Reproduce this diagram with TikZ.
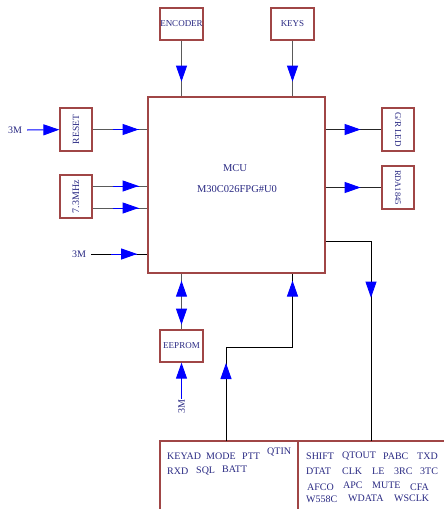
\documentclass[tikz,border=0pt]{standalone}
\usepackage{fontspec}
\setmainfont{Liberation Serif}
\usetikzlibrary{arrows.meta, decorations.markings, positioning}

\definecolor{boxred}{RGB}{160,70,70}
\definecolor{inkblue}{RGB}{40,40,130}
\definecolor{wiregray}{RGB}{90,90,90}

\tikzset{
	blk/.style={draw=boxred, line width=1.3pt, inner sep=0pt, text=inkblue, font=\fontsize{9}{10}\selectfont},
	txt/.style={text=inkblue, inner sep=1pt, font=\fontsize{10}{11}\selectfont},
	wire/.style={draw=wiregray, line width=0.9pt},
	tipshape/.style={-{Triangle[length=16pt,width=11pt]}},
	midtip/.style={postaction={decorate, decoration={markings, mark=at position #1 with {\arrow[blue]{Triangle[length=16pt,width=11pt]}}}}},
	backtip/.style={postaction={decorate, decoration={markings, mark=at position #1 with {\arrowreversed[blue]{Triangle[length=16pt,width=11pt]}}}}},
	midtipb/.style={postaction={decorate, decoration={markings, mark=at position #1 with {\draw[blue, line width=1pt] (-26pt,0) -- (0,0); \arrow[blue]{Triangle[length=16pt,width=11pt]}}}}}
}

\begin{document}
\begin{tikzpicture}[x=1pt, y=-1pt]
	\useasboundingbox (0,0) rectangle (444,509);
	\clip (0,0) rectangle (444,509);

	\node[blk, minimum width=177pt, minimum height=176pt] (mcu) at (236.5,185) {};
	\node[txt, font=\fontsize{10.5}{12}\selectfont] (mcuname) at (235,168) {MCU};
	\node[txt, font=\fontsize{10.5}{12}\selectfont] (mcupart) at (237,189) {M30C026FPG\#U0};

	\node[blk, minimum width=43pt, minimum height=32pt] (enc) at (181.5,24) {ENCODER};
	\node[blk, minimum width=43pt, minimum height=32pt] (keys) at (292.5,24) {KEYS};
	\node[blk, minimum width=43pt, minimum height=32pt] (eeprom) at (181.5,346) {EEPROM};
	\node[blk, minimum width=32pt, minimum height=43pt, label={[rotate=90, text=inkblue, font=\fontsize{9.5}{10}\selectfont]center:RESET}] (reset) at (76,129.5) {};
	\node[blk, minimum width=32pt, minimum height=43pt, label={[rotate=90, text=inkblue, font=\fontsize{10}{10}\selectfont]center:7.3MHz}] (mhz) at (76,196.5) {};
	\node[blk, minimum width=32pt, minimum height=43pt, label={[rotate=-90, text=inkblue, font=\fontsize{9}{10}\selectfont]center:G/R LED}] (grled) at (398,129.5) {};
	\node[blk, minimum width=32pt, minimum height=43pt, label={[rotate=-90, text=inkblue, font=\fontsize{8.5}{10}\selectfont]center:RDA1845}] (rda) at (398,187.5) {};

	\node[blk, minimum width=138pt, minimum height=90pt] (lbox) at (229,486) {};
	\node[blk, minimum width=162pt, minimum height=90pt] (rbox) at (379,486) {};

	\node[txt] (m1) at (15,130) {3M};
	\node[txt] (m2) at (79,254) {3M};
	\node[txt, rotate=90] (m3) at (181.5,407) {3M};

	\foreach \x/\y/\w in {166/456/KEYAD, 205/456/MODE, 241/456/PTT, 266/452/QTIN, 166/471/RXD, 195/471/SQL, 221/469/BATT,
		305/456/SHIFT, 341/456/QTOUT, 382/456/PABC, 416/456/TXD,
		305/471/DTAT, 341/471/CLK, 371/471/LE, 393/471/3RC, 419/471/3TC,
		306/487/AFCO, 342/485/APC, 371/485/MUTE, 409/487/CFA,
		305/499/W558C, 347/498/WDATA, 393/498/WSCLK}
		\node[txt, anchor=west] (w\w) at (\x,\y) {\w};

	\coordinate (rin) at (371,441);
	\coordinate (lout) at (226,441);

	\draw[wire, midtip=41pt] (enc) -- (enc |- mcu.north);
	\draw[wire, midtip=41pt] (keys) -- (keys |- mcu.north);

	\draw[blue, line width=1pt, tipshape] ([xshift=4pt]m1.east) -- (reset);
	\draw[wire, midtipb=46pt] (reset) -- (reset -| mcu.west);
	\draw[wire, midtipb=46pt] ([yshift=10.5pt]mhz.east) -- ([yshift=10.5pt]mhz.east -| mcu.west);
	\draw[wire, midtipb=46pt] ([yshift=-11.5pt]mhz.east) -- ([yshift=-11.5pt]mhz.east -| mcu.west);
	\draw[wire, draw=black, midtipb=46pt] ([xshift=4pt]m2.east) -- (m2 -| mcu.west);

	\draw[wire, draw=black!85, midtip=35pt] (grled -| mcu.east) -- (grled);
	\draw[wire, draw=black!85, midtip=35pt] (rda -| mcu.east) -- (rda);
	\draw[wire, draw=black, midtip=102pt] ([yshift=-56pt]mcu.east) -| (rin);

	\draw[wire, midtip=51pt, backtip=7pt] (eeprom |- mcu.south) -- (eeprom);
	\draw[blue, line width=1pt, tipshape] (m3) -- (eeprom);
	\draw[wire, draw=black, midtip=78pt, midtip=227pt] (lout) |- ([yshift=-74pt]keys |- mcu.south) -- (keys |- mcu.south);
\end{tikzpicture}
\end{document}
